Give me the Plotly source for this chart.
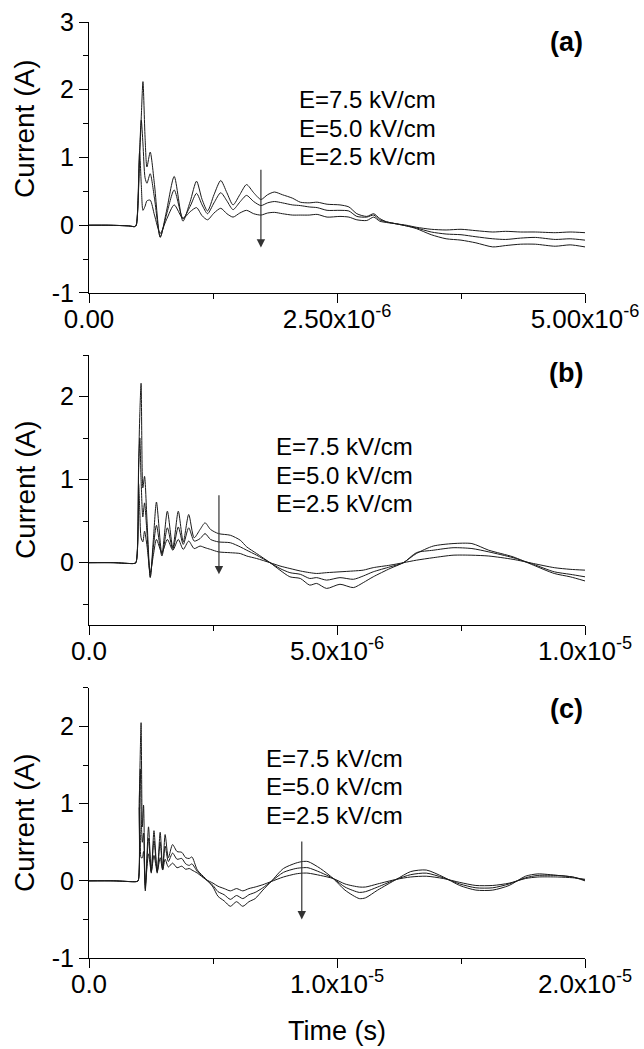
import plotly.graph_objects as go

# ---------------- data (time in microseconds, current in A) ----------------
t_a = [0, 0.2, 0.4, 0.46, 0.476, 0.51, 0.527, 0.544, 0.565, 0.584, 0.617, 0.66, 0.718, 0.78,
       0.859, 0.947, 1.02, 1.084, 1.14, 1.195, 1.26, 1.328, 1.39, 1.452, 1.52, 1.588, 1.66,
       1.733, 1.80, 1.869, 1.95, 2.05, 2.13, 2.22, 2.30, 2.40, 2.53, 2.62, 2.70, 2.80, 2.87,
       2.93, 3.0, 3.1, 3.2, 3.3, 3.45, 3.6, 3.75, 3.9, 4.07, 4.2, 4.35, 4.5, 4.7, 4.85, 5.0]
i75_a = [0, 0.0, -0.01, -0.02, 0.0, 1.0, 1.6, 2.12, 1.3, 0.86, 1.08, 0.6, -0.18, 0.2,
         0.72, 0.06, 0.35, 0.65, 0.38, 0.21, 0.45, 0.66, 0.48, 0.30, 0.45, 0.60, 0.48,
         0.38, 0.45, 0.49, 0.45, 0.40, 0.34, 0.33, 0.34, 0.31, 0.30, 0.27, 0.17, 0.13, 0.17,
         0.10, 0.05, 0.02, -0.01, -0.05, -0.14, -0.20, -0.22, -0.26, -0.32, -0.30, -0.28, -0.28, -0.31, -0.29, -0.32]
i50_a = [0, 0.0, -0.01, -0.02, 0.0, 1.1, 1.55, 1.2, 0.7, 0.62, 0.76, 0.4, -0.17, 0.15,
         0.52, 0.10, 0.28, 0.47, 0.30, 0.17, 0.33, 0.48, 0.36, 0.23, 0.34, 0.44, 0.35,
         0.29, 0.33, 0.35, 0.33, 0.30, 0.29, 0.27, 0.26, 0.22, 0.22, 0.21, 0.13, 0.12, 0.15,
         0.08, 0.05, 0.02, -0.01, -0.04, -0.10, -0.13, -0.14, -0.17, -0.20, -0.21, -0.19, -0.18, -0.21, -0.20, -0.22]
i25_a = [0, 0.0, -0.01, -0.02, 0.0, 1.08, 0.6, 0.22, 0.28, 0.36, 0.37, 0.15, -0.12, 0.08,
         0.30, 0.10, 0.20, 0.26, 0.14, 0.08, 0.18, 0.25, 0.17, 0.12, 0.18, 0.22, 0.17,
         0.15, 0.18, 0.19, 0.17, 0.15, 0.15, 0.15, 0.16, 0.12, 0.13, 0.12, 0.08, 0.07, 0.12,
         0.06, 0.04, 0.02, 0.0, -0.03, -0.06, -0.07, -0.06, -0.08, -0.10, -0.09, -0.10, -0.10, -0.11, -0.10, -0.11]

t_b = [0, 0.5, 0.9, 0.946, 1.0, 1.025, 1.05, 1.085, 1.12, 1.17, 1.235, 1.30, 1.36, 1.47, 1.58,
       1.69, 1.80, 1.90, 2.01, 2.12, 2.24, 2.34, 2.45, 2.61, 2.85, 3.05, 3.18, 3.38, 3.65, 3.85,
       4.05, 4.26, 4.45, 4.59, 4.79, 5.06, 5.33, 5.53, 5.73, 6.07, 6.34, 6.6, 6.94, 7.34, 7.72,
       8.06, 8.55, 8.96, 9.38, 9.7, 10.0]
i75_b = [0, 0.0, -0.01, 0.0, 1.2, 1.8, 2.16, 0.9, 1.04, 0.5, -0.18, 0.3, 0.73, 0.10, 0.62,
         0.18, 0.62, 0.25, 0.58, 0.30, 0.40, 0.48, 0.40, 0.35, 0.33, 0.27, 0.19, 0.11, 0.0, -0.09,
         -0.17, -0.19, -0.27, -0.25, -0.31, -0.26, -0.30, -0.24, -0.17, -0.07, 0.0, 0.11, 0.20, 0.23, 0.23,
         0.15, 0.07, -0.03, -0.13, -0.17, -0.22]
i50_b = [0, 0.0, -0.01, 0.0, 1.1, 1.5, 1.0, 0.55, 0.72, 0.35, -0.17, 0.2, 0.45, 0.08, 0.42,
         0.16, 0.43, 0.22, 0.42, 0.26, 0.29, 0.35, 0.28, 0.25, 0.24, 0.19, 0.15, 0.09, 0.0, -0.07,
         -0.12, -0.14, -0.19, -0.18, -0.21, -0.18, -0.20, -0.16, -0.11, -0.05, 0.0, 0.12, 0.15, 0.18, 0.17,
         0.13, 0.06, -0.02, -0.11, -0.14, -0.17]
i25_b = [0, 0.0, -0.01, 0.0, 0.95, 0.6, 0.3, 0.25, 0.38, 0.2, -0.12, 0.1, 0.28, 0.12, 0.28,
         0.15, 0.28, 0.16, 0.26, 0.17, 0.20, 0.18, 0.16, 0.13, 0.12, 0.11, 0.08, 0.05, 0.0, -0.04,
         -0.07, -0.10, -0.12, -0.13, -0.12, -0.11, -0.10, -0.09, -0.06, -0.03, 0.0, 0.03, 0.06, 0.09, 0.09,
         0.08, 0.04, -0.01, -0.06, -0.08, -0.09]

t_c = [0, 1.0, 1.9, 1.98, 2.03, 2.07, 2.10, 2.15, 2.2, 2.27, 2.4, 2.51, 2.62, 2.75, 2.87, 2.97,
       3.07, 3.2, 3.37, 3.55, 3.74, 3.9, 4.04, 4.15, 4.37, 4.7, 5.0, 5.2, 5.45, 5.7, 5.95, 6.2,
       6.45, 6.7, 7.01, 7.34, 7.84, 8.34, 8.6, 8.83, 9.33, 9.85, 10.32, 10.9, 11.15, 11.64, 12.4,
       12.97, 13.6, 14.29, 14.95, 15.6, 16.28, 16.94, 17.6, 18.1, 18.9, 19.5, 20.0]
i75_c = [0, 0.0, -0.01, 0.0, 1.0, 1.7, 2.05, 0.7, 0.98, -0.13, 0.7, 0.10, 0.65, 0.10, 0.63, 0.15,
         0.60, 0.30, 0.47, 0.38, 0.37, 0.30, 0.29, 0.31, 0.14, 0.03, -0.08, -0.20, -0.26, -0.33, -0.27, -0.33,
         -0.27, -0.23, -0.12, -0.01, 0.16, 0.23, 0.25, 0.25, 0.16, 0.03, -0.12, -0.23, -0.22, -0.12, 0.02,
         0.12, 0.14, 0.05, -0.06, -0.12, -0.12, -0.06, 0.06, 0.09, 0.07, 0.05, 0.0]
i50_c = [0, 0.0, -0.01, 0.0, 1.1, 1.45, 0.9, 0.5, 0.62, -0.10, 0.55, 0.12, 0.52, 0.12, 0.50, 0.15,
         0.45, 0.25, 0.36, 0.28, 0.29, 0.22, 0.20, 0.22, 0.12, 0.02, -0.06, -0.14, -0.18, -0.24, -0.19, -0.23,
         -0.18, -0.15, -0.09, -0.01, 0.11, 0.16, 0.17, 0.17, 0.11, 0.03, -0.08, -0.15, -0.14, -0.08, 0.02,
         0.08, 0.10, 0.04, -0.04, -0.09, -0.09, -0.04, 0.04, 0.07, 0.07, 0.05, 0.01]
i25_c = [0, 0.0, -0.01, 0.0, 0.95, 0.6, 0.3, 0.3, 0.38, -0.05, 0.35, 0.12, 0.33, 0.12, 0.30, 0.14,
         0.28, 0.18, 0.23, 0.17, 0.19, 0.15, 0.16, 0.14, 0.10, 0.02, -0.03, -0.07, -0.10, -0.13, -0.10, -0.13,
         -0.10, -0.08, -0.05, -0.01, 0.05, 0.09, 0.10, 0.10, 0.07, 0.03, -0.04, -0.08, -0.08, -0.04, 0.02,
         0.05, 0.06, 0.03, -0.02, -0.06, -0.06, -0.03, 0.03, 0.05, 0.05, 0.04, 0.02]

field_labels = ["E=7.5 kV/cm", "E=5.0 kV/cm", "E=2.5 kV/cm"]
panel_labels = ["(a)", "(b)", "(c)"]
xtick_vals = [[0, 2.5e-6, 5e-6], [0, 5e-6, 1e-5], [0, 1e-5, 2e-5]]
xtick_text = [["0.00", "2.50x10<sup>-6</sup>", "5.00x10<sup>-6</sup>"],
              ["0.0", "5.0x10<sup>-6</sup>", "1.0x10<sup>-5</sup>"],
              ["0.0", "1.0x10<sup>-5</sup>", "2.0x10<sup>-5</sup>"]]
ytick_vals = [[-1, 0, 1, 2, 3], [0, 1, 2], [-1, 0, 1, 2]]
ytick_text = [["-1", "0", "1", "2", "3"], ["0", "1", "2"], ["-1", "0", "1", "2"]]

# ---------------- figure ----------------
FONT = "Liberation Sans, Arial, sans-serif"
LINE = "#1a1a1a"
fig = go.Figure()

panels = [
    (t_a, [i75_a, i50_a, i25_a], "x", "y"),
    (t_b, [i75_b, i50_b, i25_b], "x2", "y2"),
    (t_c, [i75_c, i50_c, i25_c], "x3", "y3"),
]
for t, series, xa, ya in panels:
    ts = [v * 1e-6 for v in t]
    for s, name in zip(series, field_labels):
        fig.add_trace(go.Scatter(x=ts, y=s, mode="lines", name=name, xaxis=xa, yaxis=ya,
                                 line=dict(color=LINE, width=1, shape="spline", smoothing=0.7),
                                 showlegend=False, hoverinfo="skip"))

domains = [[0.7105, 1.0], [0.3558, 0.6442], [0.0, 0.2885]]
xranges = [[0, 5e-6], [0, 1e-5], [0, 2e-5]]
yranges = [[-1, 3], [-0.75, 2.5], [-1, 2.5]]
xminor = [1.25e-6, 2.5e-6, 5e-6]

axstyle = dict(showline=True, linecolor="black", linewidth=1.2, ticks="outside", ticklen=9,
               tickwidth=1.2, tickcolor="black", showgrid=False, zeroline=False, mirror=False,
               automargin=False)
layout = {}
for k in range(3):
    sx = "" if k == 0 else str(k + 1)
    layout["xaxis" + sx] = dict(axstyle, domain=[0, 1], range=xranges[k], anchor="y" + sx,
                                tickmode="array", tickvals=xtick_vals[k], ticktext=xtick_text[k],
                                ticklabelstandoff=-6,
                                tickfont=dict(family=FONT, size=26, color="black"),
                                minor=dict(ticks="outside", ticklen=5, tickwidth=1.2, tickcolor="black",
                                           dtick=xminor[k], tick0=0))
    layout["yaxis" + sx] = dict(axstyle, domain=domains[k], range=yranges[k], anchor="x" + sx,
                                tickmode="array", tickvals=ytick_vals[k], ticktext=ytick_text[k],
                                tickfont=dict(family=FONT, size=25, color="black"),
                                minor=dict(ticks="outside", ticklen=5, tickwidth=1.2, tickcolor="black",
                                           dtick=0.5, tick0=-1))
fig.update_layout(**layout)

# field labels (data coords) and arrows
label_pos = [(2.1e-6, [1.85, 1.43, 1.01]), (3.72e-6, [1.40, 1.05, 0.71]), (7.05e-6, [1.59, 1.22, 0.85])]
arrow_pos = [(1.733e-6, 0.84, -0.33), (2.62e-6, 0.83, -0.14), (8.58e-6, 0.53, -0.50)]
panel_y = [0.979, 0.625, 0.266]
ytitle_y = [0.8857, (0.3558 + 0.6442) / 2, 0.2885 / 2]
ann = []
for k in range(3):
    sx = "" if k == 0 else str(k + 1)
    xl, ys = label_pos[k]
    for txt, yv in zip(field_labels, ys):
        ann.append(dict(x=xl, y=yv, xref="x" + sx, yref="y" + sx, text=txt, showarrow=False,
                        xanchor="left", yanchor="middle",
                        font=dict(family=FONT, size=24, color="black")))
    xa_, y0, y1 = arrow_pos[k]
    ann.append(dict(x=xa_, y=y1, ax=xa_, ay=y0, xref="x" + sx, yref="y" + sx,
                    axref="x" + sx, ayref="y" + sx, text="", showarrow=True,
                    arrowhead=2, arrowsize=1.4, arrowwidth=1.2, arrowcolor="#333"))
    ann.append(dict(x=1.0, y=panel_y[k], xref="paper", yref="paper", text="<b>%s</b>" % panel_labels[k],
                    showarrow=False, xanchor="right", yanchor="middle",
                    font=dict(family=FONT, size=27, color="black")))
    ann.append(dict(x=-0.129, y=ytitle_y[k], xref="paper", yref="paper", text="Current (A)",
                    textangle=-90, showarrow=False, xanchor="center", yanchor="middle",
                    font=dict(family=FONT, size=28, color="black")))
ann.append(dict(x=0.5, y=-0.078, xref="paper", yref="paper", text="Time (s)", showarrow=False,
                xanchor="center", yanchor="middle", font=dict(family=FONT, size=27, color="black")))

fig.update_layout(annotations=ann, width=644, height=1049,
                  margin=dict(l=89, r=59, t=22, b=91, pad=0, autoexpand=False),
                  paper_bgcolor="white", plot_bgcolor="white", hovermode=False)
fig.write_html("out.html", config={"displayModeBar": False},
               post_script="document.body.style.margin='0px';document.body.style.padding='0px';")
